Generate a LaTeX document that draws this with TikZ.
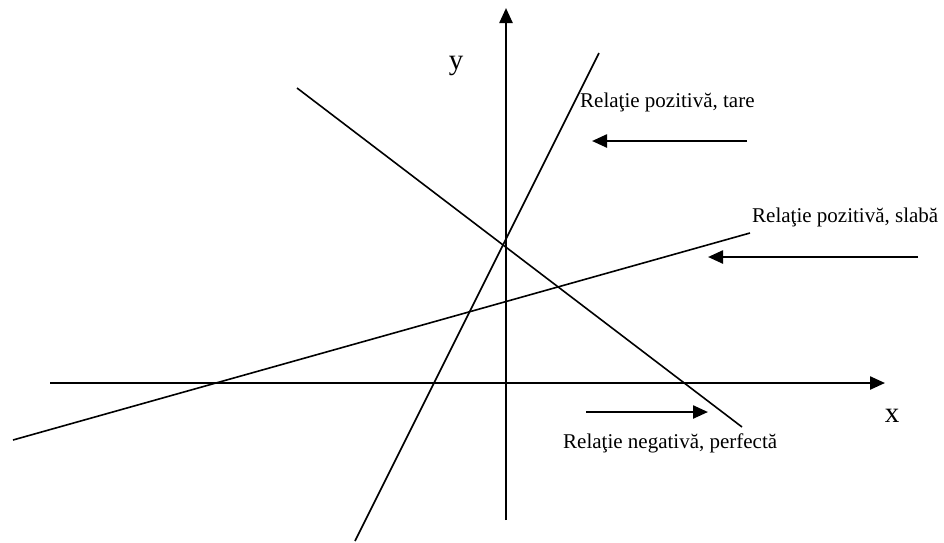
\documentclass[tikz,border=0pt]{standalone}
\usepackage{fontspec}
\setmainfont{Liberation Serif}
\usetikzlibrary{arrows.meta}

\begin{document}
\begin{tikzpicture}[x=1pt, y=-1pt, >={Triangle[length=15pt,width=13pt]},
  axis/.style={line width=2.4pt},
  fit line/.style={line width=1.6pt},
  pointer/.style={line width=2.4pt, ->},
  lbl/.style={font=\fontsize{21}{24}\selectfont, inner sep=0pt, anchor=west},
  axlbl/.style={font=\fontsize{29}{32}\selectfont, inner sep=0pt}]
\useasboundingbox (0,0) rectangle (944,542);

% axes
\coordinate (x0) at (50,383);
\coordinate (x1) at (885,383);
\coordinate (y0) at (506,520);
\coordinate (y1) at (506,8);
\draw[axis, ->] (x0) -- (x1);
\draw[axis, ->] (y0) -- (y1);
\node[axlbl] (xl) at (892,416) {x};
\node[axlbl] (yl) at (456,66) {y};

% the three lines
\coordinate (tare0) at (355,541);
\coordinate (tare1) at (599,53);
\coordinate (neg0) at (297,88);
\coordinate (neg1) at (742,427);
\coordinate (slab0) at (13,440);
\coordinate (slab1) at (750,233);
\draw[fit line] (tare0) -- (tare1);
\draw[fit line] (neg0) -- (neg1);
\draw[fit line] (slab0) -- (slab1);

% labels, with arrows pointing at the lines
\node[lbl] (ltare) at (580,102) {Relaţie pozitivă, tare};
\node[lbl] (lslab) at (752,217) {Relaţie pozitivă, slabă};
\node[lbl] (lneg) at (563,443) {Relaţie negativă, perfectă};

\coordinate (at0) at (747,141);
\coordinate (at1) at (592,141);
\coordinate (as0) at (918,257);
\coordinate (as1) at (708,257);
\coordinate (an0) at (586,412);
\coordinate (an1) at (708,412);
\draw[pointer] (at0) -- (at1);
\draw[pointer] (as0) -- (as1);
\draw[pointer] (an0) -- (an1);

\end{tikzpicture}
\end{document}
